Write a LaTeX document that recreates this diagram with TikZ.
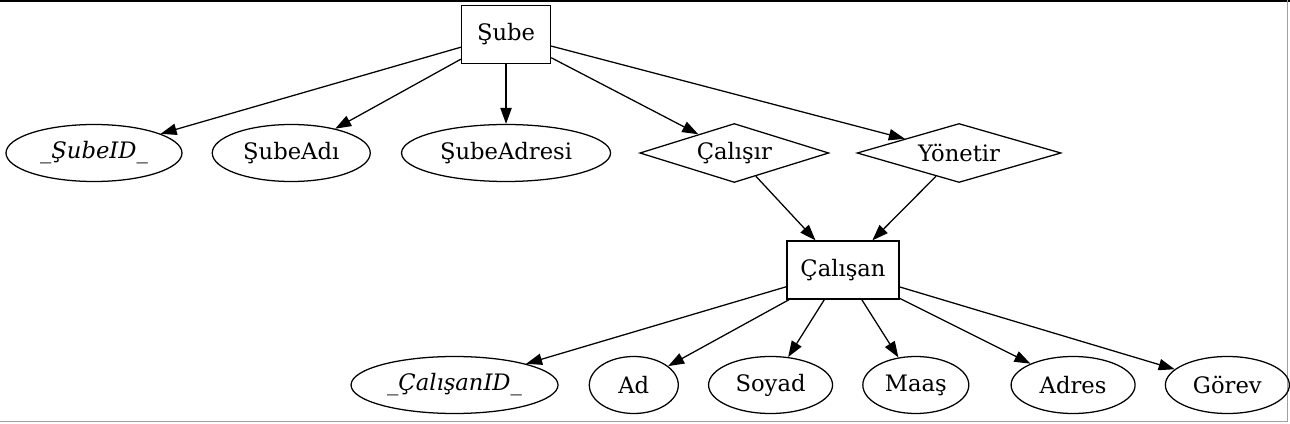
\documentclass[tikz,border=0pt]{standalone}
\usepackage{fontspec}
\setmainfont{DejaVu Serif}
\usepackage{tikz}
\usetikzlibrary{arrows.meta,positioning,shapes.geometric}
\definecolor{erframe}{HTML}{A0A0A0}

\begin{document}
\begin{tikzpicture}[
  node distance=45pt and 21.75pt,
  entity/.style={draw,rectangle,inner sep=0pt,minimum width=66.75pt,minimum height=43.5pt,font=\fontsize{17}{20}\selectfont},
  attr/.style={draw,ellipse,inner sep=0pt,minimum height=42.75pt,font=\fontsize{17}{20}\selectfont},
  rel/.style={draw,diamond,aspect=3.3,inner sep=0pt,minimum height=44.25pt,font=\fontsize{17}{20}\selectfont},
  line width=0.95pt,
  >={Triangle[length=12pt,width=8.5pt]}]
  \useasboundingbox (0,0) rectangle (967.5pt,-318pt);
  % frame of the screenshot
  \draw[line width=1.5pt] (0,-0.5pt) -- (967.5pt,-0.5pt);
  \draw[erframe,line width=1pt] (965.5pt,0) -- (965.5pt,-316pt) -- (0,-316pt);

  % Sube and its attributes
  \node[attr,minimum width=132pt] (subeid) at (70.5pt,-114.75pt) {\textit{\_ŞubeID\_}};
  \node[attr,minimum width=118.5pt,right=of subeid] (subeadi) {ŞubeAdı};
  \node[attr,minimum width=156.75pt,right=22.5pt of subeadi] (subeadres) {ŞubeAdresi};
  \node[rel,minimum width=141.75pt,right=21pt of subeadres] (calisir) {Çalışır};
  \node[rel,minimum width=153pt,right=20.25pt of calisir] (yonetir) {Yönetir};
  \node[entity,above=of subeadres] (sube) {Şube};

  % Calisan and its attributes
  \node[entity,minimum width=84pt] (calisan) at (632.25pt,-202.5pt) {Çalışan};
  \node[attr,minimum width=155.25pt] (calisanid) at (340.9pt,-288.75pt) {\textit{\_ÇalışanID\_}};
  \node[attr,minimum width=66.75pt,right=22.5pt of calisanid] (ad) {Ad};
  \node[attr,minimum width=93pt,right=of ad] (soyad) {Soyad};
  \node[attr,minimum width=79.5pt,right=of soyad] (maas) {Maaş};
  \node[attr,minimum width=93pt,right=30.75pt of maas] (adres) {Adres};
  \node[attr,minimum width=93pt,right=of adres] (gorev) {Görev};

  \draw[->] (sube)--(subeid); \draw[->] (sube)--(subeadi);
  \draw[->] (sube)--(subeadres); \draw[->] (sube)--(calisir);
  \draw[->] (sube)--(yonetir);
  \draw[->] (calisir)--(calisan); \draw[->] (yonetir)--(calisan);
  \draw[->] (calisan)--(calisanid); \draw[->] (calisan)--(ad);
  \draw[->] (calisan)--(soyad); \draw[->] (calisan)--(maas);
  \draw[->] (calisan)--(adres); \draw[->] (calisan)--(gorev);
\end{tikzpicture}
\end{document}
